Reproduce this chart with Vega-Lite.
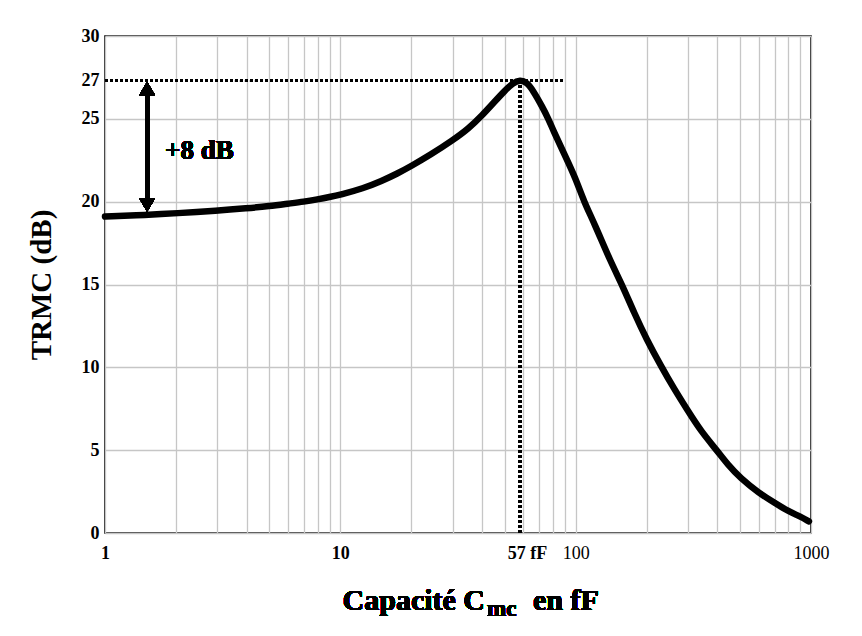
{
  "$schema": "https://vega.github.io/schema/vega-lite/v6.json",
  "autosize": {"type": "none"},
  "padding": {"left": 105, "top": 36, "right": 51, "bottom": 103},
  "width": 706,
  "height": 497,
  "background": "white",
  "config": {
    "font": "Liberation Serif",
    "view": {"stroke": "#000", "strokeWidth": 1.6},
    "axis": {"domain": false, "ticks": false, "labelColor": "#000", "titleColor": "#000", "labelFont": "Liberation Serif", "titleFont": "Liberation Serif"}
  },
  "data": {"values": [
    {"c": 1, "trmc": 19.1}, {"c": 1.5, "trmc": 19.2}, {"c": 2, "trmc": 19.3}, {"c": 3, "trmc": 19.45},
    {"c": 4, "trmc": 19.6}, {"c": 5, "trmc": 19.73}, {"c": 6, "trmc": 19.88}, {"c": 7, "trmc": 20.0},
    {"c": 8, "trmc": 20.14}, {"c": 9, "trmc": 20.28}, {"c": 10, "trmc": 20.42}, {"c": 12.5, "trmc": 20.8},
    {"c": 15, "trmc": 21.25}, {"c": 17.5, "trmc": 21.7}, {"c": 20, "trmc": 22.15}, {"c": 24, "trmc": 22.8},
    {"c": 30, "trmc": 23.7}, {"c": 35, "trmc": 24.4}, {"c": 40, "trmc": 25.2}, {"c": 45, "trmc": 26.0},
    {"c": 50, "trmc": 26.7}, {"c": 54, "trmc": 27.15}, {"c": 58, "trmc": 27.35}, {"c": 62, "trmc": 27.2},
    {"c": 66, "trmc": 26.7}, {"c": 72, "trmc": 25.75}, {"c": 76.6, "trmc": 25.0}, {"c": 80, "trmc": 24.35},
    {"c": 90, "trmc": 22.8}, {"c": 100, "trmc": 21.4}, {"c": 108.5, "trmc": 20.0}, {"c": 120, "trmc": 18.7},
    {"c": 141, "trmc": 16.35}, {"c": 158, "trmc": 14.95}, {"c": 177, "trmc": 13.3}, {"c": 200, "trmc": 11.7},
    {"c": 230, "trmc": 10.1}, {"c": 262, "trmc": 8.7}, {"c": 300, "trmc": 7.37}, {"c": 340, "trmc": 6.16},
    {"c": 400, "trmc": 4.95}, {"c": 442, "trmc": 4.14}, {"c": 500, "trmc": 3.33}, {"c": 600, "trmc": 2.42},
    {"c": 700, "trmc": 1.82}, {"c": 800, "trmc": 1.31}, {"c": 900, "trmc": 1.0}, {"c": 980, "trmc": 0.7}
  ]},
  "layer": [
    {
      "mark": {"type": "line", "color": "#000", "strokeWidth": 6.5, "interpolate": "basis", "strokeCap": "round", "clip": false},
      "encoding": {
        "x": {"field": "c", "type": "quantitative",
          "scale": {"type": "log", "domain": [1, 1000], "nice": false},
          "axis": {
            "values": [1,2,3,4,5,6,7,8,9,10,20,30,40,50,60,70,80,90,100,200,300,400,500,600,700,800,900,1000,58],
            "labelExpr": "datum.value==58 ? '57 fF' : ((datum.value==1||datum.value==10||datum.value==100||datum.value==1000) ? format(datum.value,'d') : '')",
            "labelFontSize": 18,
            "labelFontWeight": {"condition": {"test": "datum.value >= 100", "value": "normal"}, "value": "bold"},
            "labelOffset": {"condition": {"test": "datum.value == 58", "value": 7}, "value": 0},
            "labelPadding": 11,
            "labelOverlap": false,
            "labelFlush": false,
            "grid": true,
            "gridColor": "#c6c6c6",
            "gridWidth": 1.3,
            "gridOpacity": {"condition": {"test": "datum.value == 58", "value": 0}, "value": 1},
            "title": null
          }
        },
        "y": {"field": "trmc", "type": "quantitative",
          "scale": {"domain": [0, 30], "nice": false, "zero": false},
          "axis": {
            "values": [0, 5, 10, 15, 20, 25, 27.3, 30],
            "labelExpr": "datum.value == 27.3 ? '27' : datum.label",
            "labelFontSize": 18,
            "labelFontWeight": "bold",
            "labelPadding": 6,
            "grid": true,
            "gridColor": "#c6c6c6",
            "gridWidth": 1.3,
            "gridOpacity": {"condition": {"test": "datum.value == 27.3", "value": 0}, "value": 1},
            "title": "TRMC (dB)",
            "titleFontSize": 29,
            "titleFontWeight": "bold",
            "titlePadding": 25
          }
        }
      }
    },
    {
      "mark": {"type": "rule", "color": "#000", "strokeWidth": 2.7, "strokeDash": [3, 2]},
      "encoding": {"x": {"datum": 1}, "x2": {"datum": 90}, "y": {"datum": 27.3}}
    },
    {
      "mark": {"type": "rule", "color": "#000", "strokeWidth": 2.7, "strokeDash": [3, 2]},
      "encoding": {"x": {"datum": 58}, "y": {"datum": 0}, "y2": {"datum": 27.3}}
    },
    {
      "mark": {"type": "rule", "color": "#000", "strokeWidth": 4},
      "encoding": {"x": {"datum": 1.51}, "y": {"datum": 20.1}, "y2": {"datum": 26.5}}
    },
    {
      "mark": {"type": "point", "shape": "triangle-up", "filled": true, "color": "#000", "size": 250, "opacity": 1},
      "encoding": {"x": {"datum": 1.51}, "y": {"datum": 26.83}}
    },
    {
      "mark": {"type": "point", "shape": "triangle-down", "filled": true, "color": "#000", "size": 250, "opacity": 1},
      "encoding": {"x": {"datum": 1.51}, "y": {"datum": 19.8}}
    },
    {
      "mark": {"type": "text", "text": "+8 dB", "fontSize": 27, "fontWeight": "bold", "align": "left", "baseline": "alphabetic", "color": "#000"},
      "encoding": {"x": {"datum": 1.8}, "y": {"datum": 22.6}}
    },
    {
      "mark": {"type": "text", "text": "Capacité C", "fontSize": 30, "fontWeight": "bold", "align": "right", "baseline": "alphabetic", "dy": 77, "color": "#000", "clip": false},
      "encoding": {"x": {"datum": 41.2}, "y": {"datum": 0}}
    },
    {
      "mark": {"type": "text", "text": "mc", "fontSize": 23, "fontWeight": "bold", "align": "left", "baseline": "alphabetic", "dy": 83, "color": "#000", "clip": false},
      "encoding": {"x": {"datum": 42}, "y": {"datum": 0}}
    },
    {
      "mark": {"type": "text", "text": "en fF", "fontSize": 30, "fontWeight": "bold", "align": "left", "baseline": "alphabetic", "dy": 77, "color": "#000", "clip": false},
      "encoding": {"x": {"datum": 65.9}, "y": {"datum": 0}}
    }
  ]
}
